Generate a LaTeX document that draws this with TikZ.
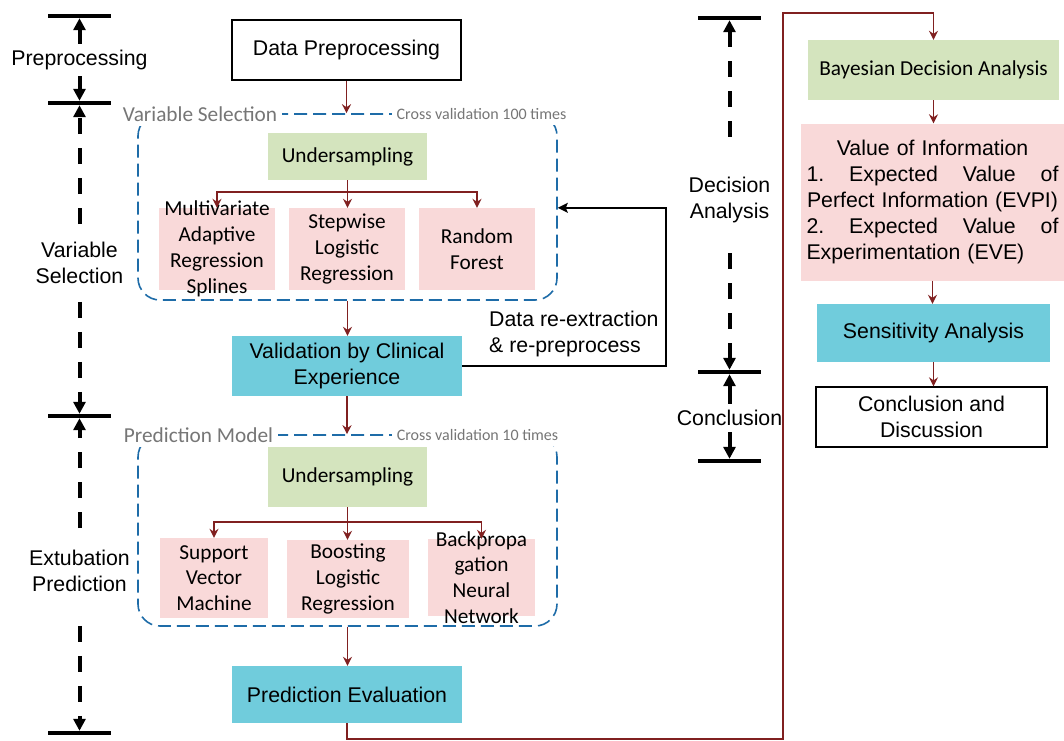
\documentclass[tikz,border=0pt]{standalone}
\usepackage{fontspec}
\setmainfont{Liberation Sans}
\newfontfamily\calibri{Carlito}
\usepackage{tikz}
\usetikzlibrary{arrows.meta}
\newcommand{\bigsize}{\fontsize{21.3}{25.8}\selectfont}
\newcommand{\smallsize}{\fontsize{16}{19}\selectfont}
\definecolor{boxgreen}{RGB}{212,228,190}
\definecolor{boxpink}{RGB}{249,217,217}
\definecolor{boxcyan}{RGB}{112,204,220}
\definecolor{flowred}{RGB}{128,32,32}
\definecolor{frameblue}{RGB}{30,108,168}
\definecolor{labelgray}{RGB}{118,118,118}
\tikzstyle{plainbox} = [rectangle, draw=black, line width=1.3pt, inner sep=2pt, text centered, align=center, font=\bigsize]
\tikzstyle{cyanbox} = [rectangle, fill=boxcyan, inner sep=2pt, text centered, align=center, font=\bigsize]
\tikzstyle{greenbox} = [rectangle, fill=boxgreen, inner sep=2pt, text centered, align=center, font=\calibri\bigsize]
\tikzstyle{pinkbox} = [rectangle, fill=boxpink, inner sep=2pt, text centered, align=center, font=\calibri\bigsize]
\tikzstyle{pinktext} = [inner sep=0pt, align=center, font=\calibri\bigsize]
\tikzstyle{dashframe} = [rectangle, draw=frameblue, line width=1.6pt, dash pattern=on 13pt off 6pt, rounded corners=22pt]
\tikzstyle{framelabel} = [fill=white, text=labelgray, inner sep=5pt, font=\calibri\bigsize]
\tikzstyle{cvlabel} = [fill=white, text=labelgray, inner sep=5pt, font=\calibri\smallsize]
\tikzstyle{arrow} = [line width=1.8pt, draw=flowred, -{Stealth[length=9pt, width=9pt, inset=3pt]}]
\tikzstyle{backarrow} = [line width=1.8pt, -{Stealth[length=10pt, width=10pt, inset=2pt]}]
\tikzstyle{stagebar} = [rectangle, fill=black, minimum width=63pt, minimum height=4pt, inner sep=0pt]
\tikzstyle{stagelabel} = [align=center, inner sep=6pt, font=\bigsize]
\tikzstyle{stagearrow} = [line width=4pt, -{Triangle[length=12pt, width=12pt]}]
\tikzstyle{stagedash} = [stagearrow, dash pattern=on 16pt off 14pt]

\begin{document}
\begin{tikzpicture}[x=1pt, y=-1pt]
	\useasboundingbox (0,0) rectangle (1064,740);

	% left column: preprocessing and variable selection
	\node (prep) [plainbox, minimum width=229pt, minimum height=60pt] at (346.5,50) {Data Preprocessing};
	\node (vsframe) [dashframe, minimum width=419pt, minimum height=186pt] at (347.5,207) {};
	\node (vslabel) [framelabel] at (200,114) {Variable Selection};
	\node (vscv) [cvlabel] at (481.5,114) {Cross validation 100 times};
	\node (us1) [greenbox, minimum width=159pt, minimum height=47pt] at (347.5,156.5) {Undersampling};
	\node (mars) [pinkbox, minimum width=116pt, minimum height=82pt,
		label={[pinktext]center:Multivariate\\Adaptive\\Regression\\Splines}] at (217,249) {};
	\node (slr) [pinkbox, minimum width=116pt, minimum height=82pt] at (347,249) {Stepwise\\Logistic\\Regression};
	\node (rf) [pinkbox, minimum width=116pt, minimum height=82pt] at (477,249) {Random\\Forest};
	\node (valid) [cyanbox, minimum width=230pt, minimum height=60pt] at (347,366) {Validation by Clinical\\Experience};
	\node (relbl) [anchor=west, align=left, inner sep=3pt, font=\bigsize] at (486,334) {Data re-extraction\\\& re-preprocess};

	% left column: prediction model
	\node (pmframe) [dashframe, minimum width=419pt, minimum height=191pt] at (347.5,530.5) {};
	\node (pmlabel) [framelabel] at (198.5,435) {Prediction Model};
	\node (pmcv) [cvlabel] at (477.5,435) {Cross validation 10 times};
	\node (us2) [greenbox, minimum width=159pt, minimum height=60pt] at (347.5,477) {Undersampling};
	\node (svm) [pinkbox, minimum width=108pt, minimum height=80pt] at (214,578) {Support\\Vector\\Machine};
	\node (blr) [pinkbox, minimum width=122pt, minimum height=78pt] at (348,579) {Boosting\\Logistic\\Regression};
	\node (bpnn) [pinkbox, minimum width=107pt, minimum height=77pt,
		label={[pinktext]center:Backpropa\\gation\\Neural\\Network}] at (481.5,577.5) {};
	\node (peval) [cyanbox, minimum width=230pt, minimum height=57pt] at (347,694.5) {Prediction Evaluation};

	% right column: decision analysis
	\node (bda) [greenbox, minimum width=251pt, minimum height=60pt] at (933.5,70) {Bayesian Decision Analysis};
	\node (voi) [pinkbox, font=\bigsize, minimum width=263pt, minimum height=157pt, text width=252pt] at (932.5,202)
		{Value of Information\\\makebox[252pt]{1.\hfill Expected\hfill Value\hfill of}\\Perfect Information (EVPI)\\\makebox[252pt]{2.\hfill Expected\hfill Value\hfill of}\\\makebox[252pt][l]{Experimentation (EVE)}};
	\node (sens) [cyanbox, minimum width=233pt, minimum height=58pt] at (933.5,333) {Sensitivity Analysis};
	\node (concl) [plainbox, minimum width=231pt, minimum height=60pt] at (931.5,417) {Conclusion and\\Discussion};

	% stage bars
	\node (barA) [stagebar] at (79.5,16) {};
	\node (lpre) [stagelabel] at (79.5,60) {Preprocessing};
	\node (barB) [stagebar] at (79.5,103) {};
	\node (lvs) [stagelabel] at (79.5,263) {Variable\\Selection};
	\node (barC) [stagebar] at (79.5,416) {};
	\node (lep) [stagelabel] at (79.5,571) {Extubation\\Prediction};
	\node (barD) [stagebar] at (79.5,733) {};
	\node (barE) [stagebar] at (729.5,18) {};
	\node (lda) [stagelabel] at (729.5,200) {Decision\\Analysis};
	\node (barF) [stagebar] at (729.5,372) {};
	\node (lcon) [stagelabel] at (729.5,418) {Conclusion};
	\node (barG) [stagebar] at (729.5,461) {};

	\draw [stagearrow] (lpre.north) -- (barA.south);
	\draw [stagearrow] (lpre.south) -- (barB.north);
	\draw [stagedash, shorten <=12pt] (lvs.north) -- (barB.south);
	\draw [stagedash, shorten <=12pt] (lvs.south) -- (barC.north);
	\draw [stagedash, shorten <=16pt] (lep.north) -- (barC.south);
	\draw [stagedash, shorten <=28pt] (lep.south) -- (barD.north);
	\draw [stagedash, shorten <=34pt] (lda.north) -- (barE.south);
	\draw [stagedash, shorten <=24pt] (lda.south) -- (barF.north);
	\draw [stagearrow] (lcon.north) -- (barF.south);
	\draw [stagearrow] (lcon.south) -- (barG.north);

	% flow
	\draw [arrow] (prep.south) -- (prep.south |- vsframe.north);
	\draw [arrow] (us1.south) -- ++(0,12) coordinate (split1) -| (mars.north);
	\draw [arrow] (split1) -| (rf.north);
	\draw [arrow] (split1) -- (split1 |- slr.north);
	\draw [arrow] (vsframe.south) -- (vsframe.south |- valid.north);
	\draw [backarrow] (valid.east) -- ++(204,0) |- (vsframe.east |- rf.north);
	\draw [arrow] (valid.south) -- (valid.south |- pmframe.north);
	\draw [arrow] (us2.south) -- ++(0,15) coordinate (split2) -| (svm.north);
	\draw [arrow] (split2) -| (bpnn.north);
	\draw [arrow] (split2) -- (split2 |- blr.north);
	\draw [arrow] (pmframe.south) -- (pmframe.south |- peval.north);
	\coordinate (turn1) at (783,739);
	\coordinate (turn2) at (783,13);
	\draw [arrow] (peval.south) |- (turn1) -- (turn2) -| (bda.north);
	\draw [arrow] (bda.south) -- (bda.south |- voi.north);
	\draw [arrow] (voi.south) -- (voi.south |- sens.north);
	\draw [arrow] (sens.south) -- (sens.south |- concl.north);
\end{tikzpicture}
\end{document}
